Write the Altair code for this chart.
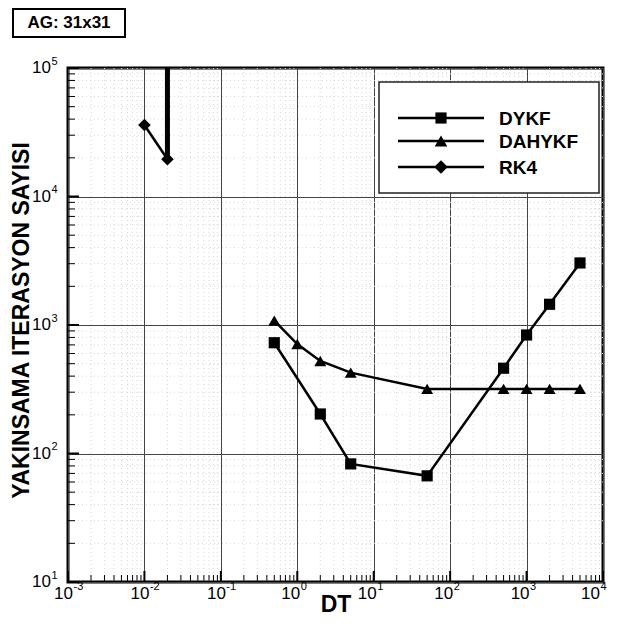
import altair as alt
import pandas as pd

# ---- data ----
series_names = ["DYKF", "DAHYKF", "RK4"]
series_shapes = ["square", "triangle-up", "diamond"]

dykf_dt = [0.5, 2, 5, 50, 500, 1000, 2000, 5000]
dykf_it = [728, 203, 83, 67, 461, 836, 1450, 3040]

dahykf_dt = [0.5, 1, 2, 5, 50, 500, 1000, 2000, 5000]
dahykf_it = [1080, 711, 525, 426, 318, 318, 318, 318, 318]

rk4_dt = [0.01, 0.02]
rk4_it = [36000, 19500]

# RK4 diverges after dt = 0.02 (vertical jump off the chart)
rk4_jump_dt = [0.02, 0.02]
rk4_jump_it = [19500, 100000]

x_exponents = [-3, -2, -1, 0, 1, 2, 3, 4]
x_tick_base = ["10"] * 8
x_tick_sup = ["-3", "-2", "-1", "0", "1", "2", "3", "4"]
y_exponents = [1, 2, 3, 4, 5]
y_tick_base = ["10"] * 5
y_tick_sup = ["1", "2", "3", "4", "5"]

title_text = "AG: 31x31"
x_title = "DT"
y_title = "YAKINSAMA ITERASYON SAYISI"

FONT = "Liberation Sans"
W, H = 535, 514

# ---- tables ----
rows = []
for name, xs, ys in [("DYKF", dykf_dt, dykf_it), ("DAHYKF", dahykf_dt, dahykf_it), ("RK4", rk4_dt, rk4_it)]:
    for a, b in zip(xs, ys):
        rows.append({"series": name, "dt": a, "it": b})
df = pd.DataFrame(rows)
jump = pd.DataFrame({"dt": rk4_jump_dt, "it": rk4_jump_it})

x_major = [10.0 ** e for e in x_exponents]
y_major = [10.0 ** e for e in y_exponents]
x_minor = [m * 10.0 ** e for e in x_exponents[:-1] for m in range(2, 10)]
y_minor = [m * 10.0 ** e for e in y_exponents[:-1] for m in range(2, 10)]

# label group: 0 = negative exponent, 1 = middle, 2 = last (kept inside the page edge)
groups = [0 if e < 0 else (2 if i == len(x_exponents) - 1 else 1) for i, e in enumerate(x_exponents)]
xlab = pd.DataFrame({"v": x_major, "base": x_tick_base, "sup": x_tick_sup, "grp": groups})
ylab = pd.DataFrame({"v": y_major, "base": y_tick_base, "sup": y_tick_sup})

xscale = alt.Scale(type="log", domain=[1e-3, 1e4], nice=False)
yscale = alt.Scale(type="log", domain=[10, 1e5], nice=False)

xaxis = alt.Axis(values=x_major, labels=False,
                 grid=True, gridColor="#444", gridWidth=1, ticks=False, domain=False,
                 title=x_title, titleFont=FONT, titleFontSize=23, titleFontWeight="bold",
                 titleColor="black", titleX=W / 2, titleY=22, titleAlign="center",
                 titleBaseline="middle")
yaxis = alt.Axis(values=y_major, labels=False,
                 grid=True, gridColor="#444", gridWidth=1, ticks=False, domain=False,
                 title=y_title, titleFont=FONT, titleFontSize=23, titleFontWeight="bold",
                 titleColor="black", titleX=-47, titleY=252, titleAngle=-90,
                 titleAlign="center", titleBaseline="middle")


def X(field):
    return alt.X(f"{field}:Q", scale=xscale, axis=xaxis)


def Y(field):
    return alt.Y(f"{field}:Q", scale=yscale, axis=yaxis)


base_axes = alt.Chart(pd.DataFrame({"dt": [1e-3], "it": [10]})).mark_point(opacity=0).encode(
    x=X("dt"), y=Y("it"))

minor_x_grid = alt.Chart(pd.DataFrame({"v": x_minor})).mark_rule(
    color="#d8d8d8", strokeDash=[1, 3], strokeWidth=1).encode(x=X("v"))
minor_y_grid = alt.Chart(pd.DataFrame({"v": y_minor})).mark_rule(
    color="#d8d8d8", strokeDash=[1, 3], strokeWidth=1).encode(y=Y("v"))

bx_minor = alt.Chart(pd.DataFrame({"v": x_minor})).mark_rule(color="black", strokeWidth=1).encode(
    x=X("v"), y=alt.value(H), y2=alt.value(H - 7))
bx_major = alt.Chart(pd.DataFrame({"v": x_major})).mark_rule(color="black", strokeWidth=2).encode(
    x=X("v"), y=alt.value(H), y2=alt.value(H - 11))
ly_minor = alt.Chart(pd.DataFrame({"v": y_minor})).mark_rule(color="black", strokeWidth=1).encode(
    y=Y("v"), x=alt.value(0), x2=alt.value(7))
ly_major = alt.Chart(pd.DataFrame({"v": y_major})).mark_rule(color="black", strokeWidth=2).encode(
    y=Y("v"), x=alt.value(0), x2=alt.value(11))

# ---- tick labels: "10" with a raised exponent ----
lab_style = dict(font=FONT, color="black", baseline="middle")
x_lab_layers = []
for grp, d in [(0, 5), (1, 3), (2, -3)]:
    src = alt.Chart(xlab).transform_filter(f"datum.grp == {grp}")
    x_lab_layers.append(src.mark_text(fontSize=17, align="right", dx=d, **lab_style).encode(
        x=X("v"), y=alt.value(H + 12), text="base:N"))
    x_lab_layers.append(src.mark_text(fontSize=11, align="left", dx=d + 0.5, **lab_style).encode(
        x=X("v"), y=alt.value(H + 4.5), text="sup:N"))
y_lab_layers = [
    alt.Chart(ylab).mark_text(fontSize=17, align="right", dx=-17, dy=0, **lab_style).encode(
        x=alt.value(0), y=Y("v"), text="base:N"),
    alt.Chart(ylab).mark_text(fontSize=11, align="left", dx=-16.5, dy=-6.5, **lab_style).encode(
        x=alt.value(0), y=Y("v"), text="sup:N"),
]

lines = alt.Chart(df).mark_line(color="black", strokeWidth=2.5, clip=True).encode(
    x=X("dt"), y=Y("it"), detail="series:N")
jump_line = alt.Chart(jump).mark_line(color="black", strokeWidth=5, clip=True).encode(
    x=X("dt"), y=Y("it"))
shape_scale = alt.Scale(domain=series_names, range=series_shapes)
marker_sizes = [125, 160, 180]
points = alt.Chart(df).mark_point(filled=True, color="black", opacity=1, clip=True).encode(
    x=X("dt"), y=Y("it"),
    shape=alt.Shape("series:N", scale=shape_scale, legend=None),
    size=alt.Size("series:N", scale=alt.Scale(domain=series_names, range=marker_sizes), legend=None),
)

# ---- custom legend box ----
one = pd.DataFrame({"a": [0]})
legend_layers = [
    alt.Chart(one).mark_rect(fill="white", stroke="#222", strokeWidth=1.5).encode(
        x=alt.value(311), x2=alt.value(531), y=alt.value(14), y2=alt.value(125))
]
legend_rows_y = [50, 73, 99]
for name, shp, yy, sz in zip(series_names, series_shapes, legend_rows_y, marker_sizes):
    legend_layers.append(alt.Chart(one).mark_rule(color="black", strokeWidth=2.5).encode(
        x=alt.value(330), x2=alt.value(416), y=alt.value(yy)))
    legend_layers.append(alt.Chart(one).mark_point(filled=True, color="black", opacity=1,
                                                   shape=shp, size=sz).encode(
        x=alt.value(373), y=alt.value(yy)))
    legend_layers.append(alt.Chart(pd.DataFrame({"t": [name]})).mark_text(
        font=FONT, fontSize=19, fontWeight="bold", align="left", baseline="middle", color="black").encode(
        x=alt.value(431), y=alt.value(yy + 1), text="t:N"))

# ---- boxed title in the upper left ----
title_box = alt.Chart(one).mark_rect(fill="white", stroke="black", strokeWidth=2).encode(
    x=alt.value(-55), x2=alt.value(57), y=alt.value(-59), y2=alt.value(-31))
title_mark = alt.Chart(pd.DataFrame({"t": [title_text]})).mark_text(
    font=FONT, fontSize=17, fontWeight="bold", align="center", baseline="middle", color="black").encode(
    x=alt.value(1), y=alt.value(-45), text="t:N")

chart = alt.layer(
    base_axes, minor_x_grid, minor_y_grid, bx_minor, bx_major, ly_minor, ly_major,
    *x_lab_layers, *y_lab_layers,
    lines, jump_line, points, *legend_layers, title_box, title_mark,
).properties(
    width=W, height=H,
    padding={"left": 60, "top": 60, "right": 6, "bottom": 35},
    autosize=alt.AutoSizeParams(type="none"),
).configure(
    background="white"
).configure_view(
    stroke="black", strokeWidth=3
)

chart.save("out.html", embed_options={"renderer": "svg", "actions": False})
